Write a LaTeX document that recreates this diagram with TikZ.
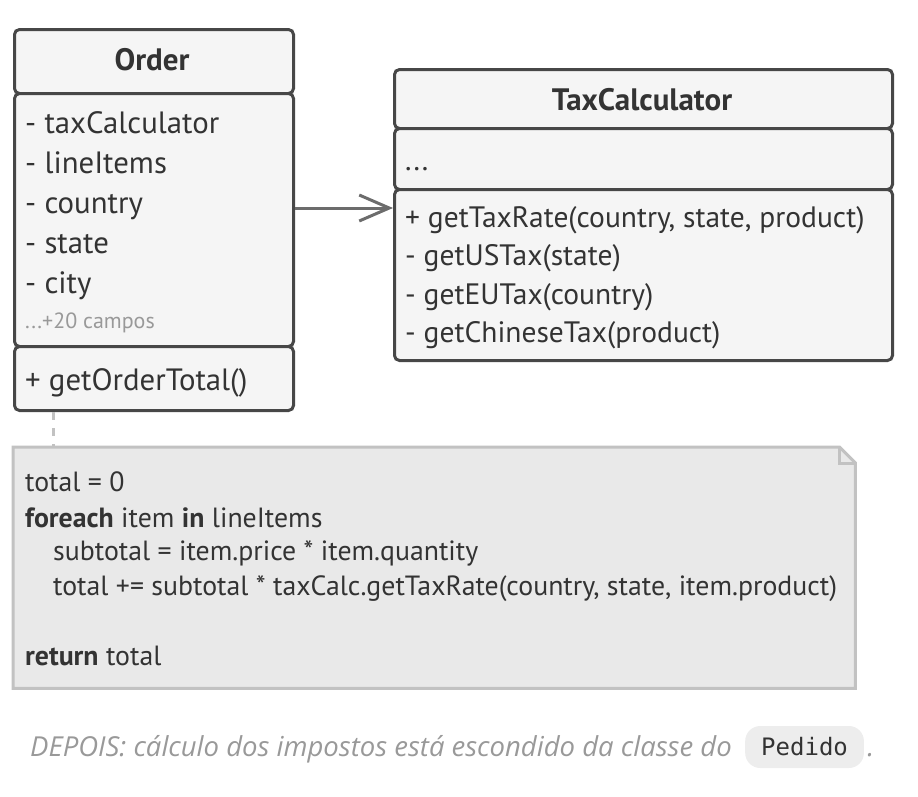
\documentclass[tikz,border=0pt]{standalone}
\usepackage{fontspec}
\setmainfont{PT Sans}
\newfontfamily\notefont{PT Sans}
\newfontfamily\capfont{Open Sans}
\newfontfamily\codefont{DejaVu Sans Mono}
\usetikzlibrary{arrows.meta}
\definecolor{border}{HTML}{474747}
\definecolor{boxfill}{HTML}{F5F5F5}
\definecolor{txt}{HTML}{333333}
\definecolor{notefill}{HTML}{E9E9E9}
\definecolor{noteline}{HTML}{C2C2C2}
\definecolor{captxt}{HTML}{999999}
\tikzset{
  comp/.style={draw=border, fill=boxfill, line width=3pt, rounded corners=5pt,
    anchor=north west, inner sep=0pt},
  item/.style={anchor=base west, inner sep=0pt, text=txt, font=\fontsize{30}{34}\selectfont},
  title/.style={anchor=base, inner sep=0pt, text=txt, font=\fontsize{31}{35}\selectfont\bfseries},
  code/.style={anchor=west, inner sep=0pt, text=txt, font=\notefont\fontsize{27.8}{32}\selectfont},
  assoc/.style={draw=border!80, line width=3pt, -{Straight Barb[length=30pt,width=26pt,line width=3pt]}},
  link/.style={draw=noteline, line width=3pt, dash pattern=on 8pt off 8pt},
}
\begin{document}
\begin{tikzpicture}[x=1pt,y=-1pt]
\useasboundingbox (0,0) rectangle (918,796);
% Order class
\node[comp, minimum width=279pt, minimum height=64pt] (oh) at (13,28) {};
\node[comp, minimum width=279pt, minimum height=253pt] (oa) at (13,92) {};
\node[comp, minimum width=279pt, minimum height=64pt] (om) at (13,345) {};
\node[title] (otitle) at (152,70) {Order};
\node[item, font=\fontsize{30.8}{34}\selectfont] (o1) at (25,133) {- taxCalculator};
\node[item, font=\fontsize{30.8}{34}\selectfont] (o2) at (25,173) {- lineItems};
\node[item, font=\fontsize{30.8}{34}\selectfont] (o3) at (25,213) {- country};
\node[item, font=\fontsize{30.8}{34}\selectfont] (o4) at (25,253) {- state};
\node[item, font=\fontsize{30.8}{34}\selectfont] (o5) at (25,293) {- city};
\node[item, text=captxt, font=\fontsize{22}{26}\selectfont] (o6) at (25,328) {...+20 campos};
\node[item, font=\fontsize{30.8}{34}\selectfont] (o7) at (25,390) {+ getOrderTotal()};
% TaxCalculator class
\node[comp, minimum width=498pt, minimum height=59pt] (th) at (393,68) {};
\node[comp, minimum width=498pt, minimum height=61pt] (ta) at (393,127) {};
\node[comp, minimum width=498pt, minimum height=171pt] (tm) at (393,188) {};
\node[title] (ttitle) at (642,110) {TaxCalculator};
\node[item] (t0) at (405,170) {...};
\node[item, font=\fontsize{29.5}{34}\selectfont] (t1) at (405,227) {+ getTaxRate(country, state, product)};
\node[item, font=\fontsize{29.5}{34}\selectfont] (t2) at (405,265) {- getUSTax(state)};
\node[item, font=\fontsize{29.5}{34}\selectfont] (t3) at (405,304) {- getEUTax(country)};
\node[item, font=\fontsize{29.5}{34}\selectfont] (t4) at (405,342) {- getChineseTax(product)};
% association
\draw[assoc] (oa.east |- 0,208) -- (tm.west |- 0,208);
% note
\node[inner sep=0pt, minimum width=842pt, minimum height=241pt, anchor=north west] (note) at (13,447) {};
\fill[notefill] (note.north west) -- ([xshift=-16pt]note.north east) -- ([yshift=-16pt]note.north east) -- (note.south east) -- (note.south west) -- cycle;
\draw[noteline, line width=3pt] (note.north west) -- ([xshift=-16pt]note.north east) -- ([yshift=-16pt]note.north east) -- (note.south east) -- (note.south west) -- cycle;
\draw[noteline, line width=3pt] ([xshift=-16pt]note.north east) -- ([xshift=-16pt,yshift=-16pt]note.north east) -- ([yshift=-16pt]note.north east);
\draw[link] (om.south -| 53,0) -- (note.north -| 53,0);
\node[code] (c1) at (25,482) {total = 0};
\node[code] (c2) at (25,518) {\textbf{foreach} item \textbf{in} lineItems};
\node[code] (c3) at (53,553) {subtotal = item.price * item.quantity};
\node[code] (c4) at (53,589) {total += subtotal * taxCalc.getTaxRate(country, state, item.product)};
\node[code] (c5) at (25,656) {\textbf{return} total};
% caption
\node[anchor=base west, inner sep=0pt, text=captxt, font=\capfont\itshape\fontsize{27.5}{31}\selectfont] (cap) at (30,756) {DEPOIS: cálculo dos impostos está escondido da classe do};
\node[anchor=west, fill=black!7, rounded corners=15pt, minimum height=42pt, inner xsep=16pt, text=txt, font=\codefont\fontsize{24}{28}\selectfont] (ped) at (745,747) {Pedido};
\node[anchor=base west, inner sep=0pt, text=captxt, font=\capfont\itshape\fontsize{27.5}{31}\selectfont] (dot) at ([xshift=3pt]ped.east |- cap.base) {.};
\end{tikzpicture}
\end{document}
